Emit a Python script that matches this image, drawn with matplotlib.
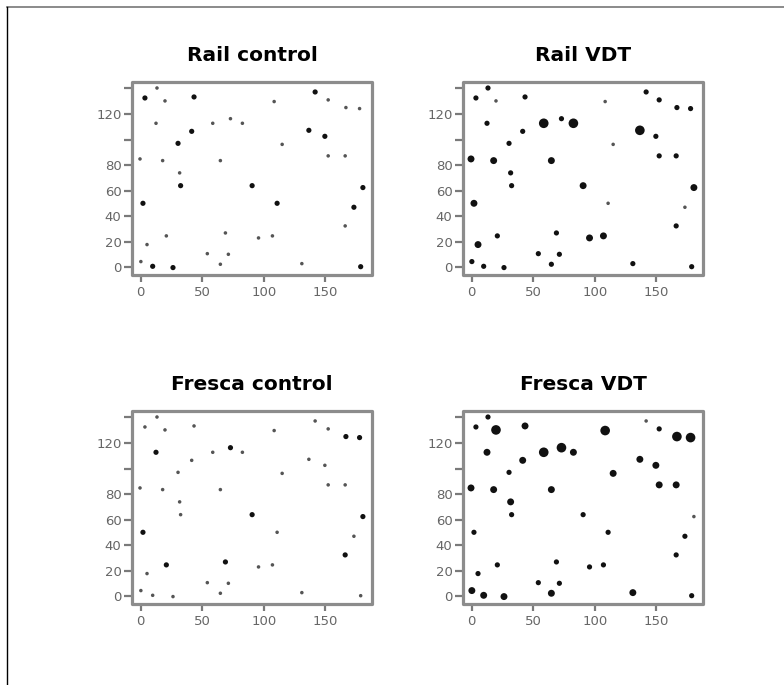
import numpy as np
import matplotlib
matplotlib.use("Agg")
import matplotlib.pyplot as plt
from matplotlib.patches import Rectangle
from matplotlib.lines import Line2D

# trap locations (same in every panel)
x_pos = [3.5, 13.3, 19.8, 43.4, 12.5, 58.6, 73.0, 82.7, 41.5, 30.4,
         -0.5, 17.9, 64.8, 31.7, 32.5, 90.6, 1.9, 110.9, 5.2, 20.9,
         68.9, 95.8, 107.1, 54.2, 71.3, 0.2, 9.8, 26.3, 64.8, 141.8,
         108.5, 152.4, 166.8, 177.9, 136.7, 149.7, 115.0, 152.4, 166.2, 180.6,
         173.3, 166.2, 131.0, 178.8]
y_pos = [132.5, 140.3, 130.2, 133.3, 112.7, 112.7, 116.3, 112.7, 106.4, 97.0,
         84.8, 83.5, 83.5, 73.9, 63.9, 63.9, 50.1, 50.1, 17.8, 24.6,
         26.9, 23.0, 24.6, 10.7, 10.2, 4.5, 0.8, -0.2, 2.4, 137.2,
         129.7, 131.0, 125.0, 124.2, 107.2, 102.5, 96.2, 87.2, 87.2, 62.4,
         47.0, 32.4, 2.9, 0.5]

# abundance class at each trap (1 = fewest .. 4 = most)
rail_control = [2, 1, 1, 2, 1, 1, 1, 1, 2, 2,
                1, 1, 1, 1, 2, 2, 2, 2, 1, 1,
                1, 1, 1, 1, 1, 1, 2, 2, 1, 2,
                1, 1, 1, 1, 2, 2, 1, 1, 1, 2,
                2, 1, 1, 2]
rail_vdt = [2, 2, 1, 2, 2, 4, 2, 4, 2, 2,
            3, 3, 3, 2, 2, 3, 3, 1, 3, 2,
            2, 3, 3, 2, 2, 2, 2, 2, 2, 2,
            1, 2, 2, 2, 4, 2, 1, 2, 2, 3,
            1, 2, 2, 2]
fresca_control = [1, 1, 1, 1, 2, 1, 2, 1, 1, 1,
                  1, 1, 1, 1, 1, 2, 2, 1, 1, 2,
                  2, 1, 1, 1, 1, 1, 1, 1, 1, 1,
                  1, 1, 2, 2, 1, 1, 1, 1, 1, 2,
                  1, 2, 1, 1]
fresca_vdt = [2, 2, 4, 3, 3, 4, 4, 3, 3, 2,
              3, 3, 3, 3, 2, 2, 2, 2, 2, 2,
              2, 2, 2, 2, 2, 3, 3, 3, 3, 1,
              4, 2, 4, 4, 3, 3, 3, 3, 3, 1,
              2, 2, 3, 2]

titles = ["Rail control", "Rail VDT", "Fresca control", "Fresca VDT"]
classes = [rail_control, rail_vdt, fresca_control, fresca_vdt]

size_map = {1: 6.5, 2: 14, 3: 25, 4: 48}
color_map = {1: "#555555", 2: "#111111", 3: "#111111", 4: "#111111"}

fig = plt.figure(figsize=(7.84, 6.85), dpi=100)

lefts = [132 / 784, 463 / 784]
tops = [82, 411]
w = 240 / 784
h = 193 / 685

for i, (title, cls) in enumerate(zip(titles, classes)):
    left = lefts[i % 2]
    bottom = 1 - (tops[i // 2] + 193) / 685
    ax = fig.add_axes([left, bottom, w, h])
    sizes = [size_map[c] for c in cls]
    colors = [color_map[c] for c in cls]
    ax.scatter(x_pos, y_pos, s=sizes, c=colors, linewidths=0, zorder=3)
    ax.set_xlim(-7, 188)
    ax.set_ylim(-6, 145)
    ax.set_xticks([0, 50, 100, 150])
    ax.set_yticks([0, 20, 40, 60, 80, 100, 120, 140])
    ax.set_yticklabels(["0", "20", "40", "60", "80", "", "120", ""])
    for s in ax.spines.values():
        s.set_visible(False)
    ax.add_patch(Rectangle((0, 0), 1, 1, transform=ax.transAxes, fill=False,
                           lw=2.3, ec="#8c8c8c", joinstyle="round",
                           clip_on=False, zorder=5))
    ax.tick_params(axis="both", direction="out", color="#7a7a7a", width=1.6,
                   labelcolor="#666666", labelsize=9.5)
    ax.tick_params(axis="y", length=6, pad=1.5)
    ax.tick_params(axis="x", length=5, pad=3)
    ax.set_title(title, fontsize=14.5, fontweight="bold", pad=15)

# partial frame round the figure
fig.add_artist(Line2D([7 / 784, 1], [1 - 7 / 685, 1 - 7 / 685],
                      transform=fig.transFigure, color="#777777", lw=1.2))
fig.add_artist(Line2D([7 / 784, 7 / 784], [0, 1 - 7 / 685],
                      transform=fig.transFigure, color="black", lw=1.0))

fig.savefig("out.png", dpi=100)
